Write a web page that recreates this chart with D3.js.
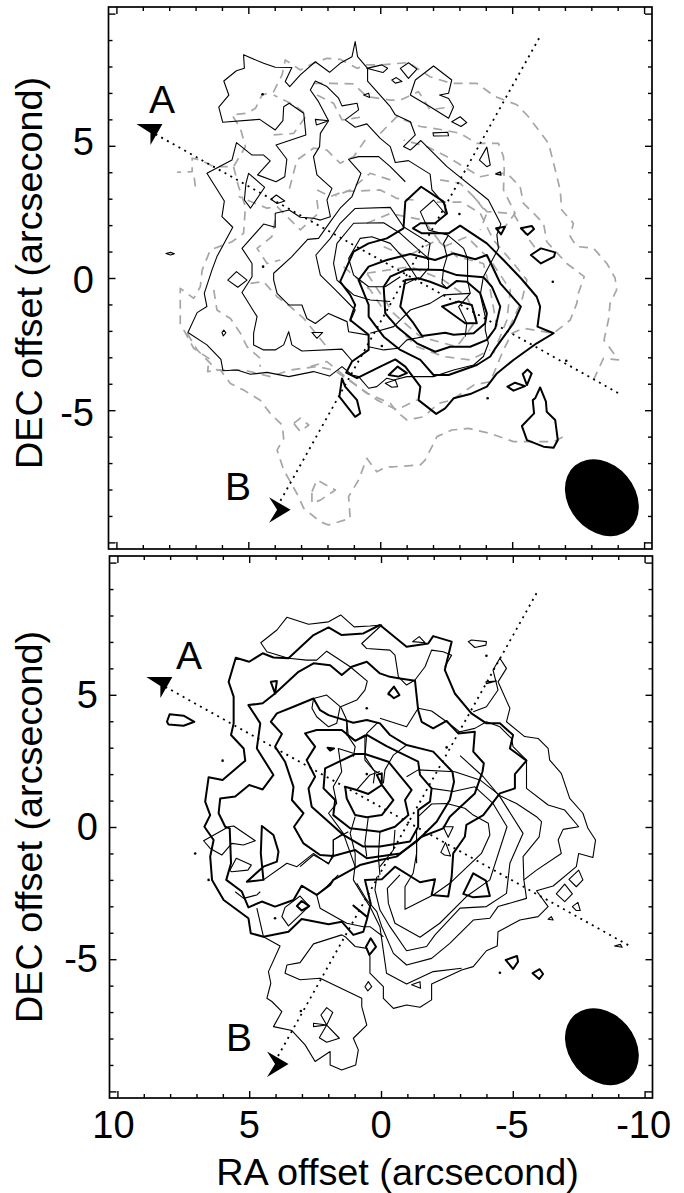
<!DOCTYPE html>
<html><head><meta charset="utf-8">
<script src="https://cdnjs.cloudflare.com/ajax/libs/d3/7.8.5/d3.min.js"></script>
<style>html,body{margin:0;padding:0;background:#fff}svg{display:block}text{font-family:"Liberation Sans",Arial,sans-serif;fill:#000}</style>
</head><body><svg id="c" width="684" height="1193"></svg>
<script>
// ---- shared axis values (arcsecond) ----
const majorTicks=[10,5,0,-5,-10];
const minorTicks=[9,8,7,6,4,3,2,1,-1,-2,-3,-4,-6,-7,-8,-9];
const yLabels=["5","0","-5"];
const xLabels=["10","5","0","-5","-10"];
const xTitle="RA offset (arcsecond)";
const yTitle="DEC offset (arcsecond)";
const beamAxes=[1.59,1.25];

// ---- TOP PANEL contours, [RA, DEC] ----
const topThinRings=[
[[5.18,8.44],[4.42,8.12],[3.98,7.97],[3.35,7.96],[3.60,7.43],[3.43,7.24],[3.03,7.68],[2.46,8.18],[1.92,7.78],[1.52,8.12],[1.07,8.37],[0.95,8.94],[0.86,8.37],[0.48,7.93],[0.48,7.45],[-0.38,6.48],[-0.57,6.17],[-1.14,5.91],[-1.33,5.41],[-0.88,4.97],[-1.14,4.84],[-1.54,5.20],[-2.53,4.21],[-4.10,2.95],[-4.57,2.04],[-4.42,1.63],[-4.48,1.12],[-3.91,0.05],[-3.79,-0.64],[-3.98,-1.46],[-3.98,-1.97],[-4.10,-2.47],[-3.91,-2.97],[-3.54,-3.29],[-2.78,-3.48],[-2.02,-3.73],[-1.01,-3.73],[-0.51,-3.86],[-0.25,-3.79],[0.13,-4.11],[0.44,-4.17],[0.82,-3.73],[1.07,-3.67],[1.45,-3.35],[1.92,-3.71],[2.53,-3.54],[3.47,-3.73],[4.29,-3.57],[4.92,-3.64],[5.43,-3.48],[5.96,-3.51],[6.04,-3.08],[6.57,-2.53],[7.29,-2.06],[6.94,-1.31],[6.57,-1.08],[6.67,-0.58],[6.38,0.30],[6.19,0.81],[5.59,1.92],[6.0,2.32],[5.91,2.91],[6.57,3.96],[5.62,4.46],[5.45,5.12],[4.86,4.65],[4.42,4.65],[4.17,4.43],[4.65,3.90],[3.95,3.64],[3.62,3.83],[3.54,4.49],[3.95,5.03],[2.82,5.41],[2.90,6.23],[3.45,6.61],[3.66,6.48],[3.69,5.95],[3.98,5.60],[4.57,6.00],[5.97,5.89],[6.12,6.46],[5.74,6.92],[5.93,7.45],[5.45,7.84],[5.15,7.93]],
[[0.51,7.93],[-0.06,8.06],[-0.28,7.93],[-0.10,7.77]],
[[0.63,6.92],[0.44,6.99],[0.40,6.83]],
[[2.46,6.00],[1.96,5.95],[2.42,5.79]],
[[4.99,3.96],[4.38,3.43],[4.92,2.64],[5.15,2.95],[5.09,3.58]],
[[4.14,2.98],[3.94,3.14],[3.62,2.91],[3.91,2.82]],
[[8.12,0.93],[7.95,0.97],[7.80,0.92],[7.95,0.87]],
[[5.78,-0.08],[5.45,0.24],[5.05,-0.08],[5.40,-0.35]],
[[6.0,-2.06],[5.93,-1.97],[5.85,-2.07],[5.95,-2.19]],
[[2.59,-2.06],[2.18,-2.06],[2.40,-2.28]],
[[-0.76,7.93],[-1.07,8.14],[-1.39,7.90],[-1.07,7.55]],
[[-0.44,7.49],[-0.61,7.58],[-0.82,7.43],[-0.57,7.37]],
[[-1.14,6.92],[-1.33,7.49],[-2.02,8.02],[-2.71,7.49],[-2.59,6.99],[-2.25,6.92],[-2.59,6.79],[-2.78,6.48],[-2.59,6.04],[-1.89,6.48]],
[[-2.71,5.91],[-3.03,6.10],[-3.28,5.88],[-3.06,5.73]],
[[-2.0,5.49],[-2.56,5.51],[-2.59,5.38],[-2.02,5.37]],
[[-3.76,4.46],[-4.04,4.95],[-4.17,4.27],[-4.04,4.21]],
[[-4.38,3.93],[-4.55,4.02],[-4.58,3.89]],
[[-0.19,-3.98],[-0.57,-3.86],[-0.66,-4.11],[-0.44,-4.13]]
];
const topThinOpen=[
[[-3.22,-2.22],[-3.28,-1.71],[-2.97,-1.08],[-3.41,-0.58],[-3.31,-0.08],[-3.31,0.74],[-3.16,1.12],[-2.55,1.63],[-1.83,1.81],[-1.52,2.51],[-2.02,2.95],[-2.46,2.44],[-2.46,2.76],[-1.96,3.33],[-1.89,3.93],[-1.07,4.44],[-0.57,4.37],[-0.38,4.97],[0.0,5.28],[0.51,5.83],[0.95,5.70],[1.33,5.98],[0.82,6.36],[0.88,6.61],[1.45,6.51],[1.58,6.80],[2.02,7.24],[2.46,7.45],[2.65,7.11],[2.34,6.67],[1.96,5.95],[2.27,5.47],[2.30,4.97],[2.53,4.59],[2.40,3.90],[1.83,3.39],[2.02,2.95],[1.89,2.32],[2.27,2.19],[2.53,2.26],[3.03,2.30],[3.45,2.57],[3.98,2.45],[3.98,1.92],[4.42,2.04],[5.24,1.12],[4.86,0.55],[4.86,0.05],[5.24,-0.55],[4.67,-1.46],[4.80,-2.09],[4.80,-2.53],[4.42,-2.72],[3.98,-2.72],[3.66,-2.53],[3.47,-2.03],[3.35,-2.53],[2.97,-2.76],[1.45,-2.69],[1.07,-3.13]],
[[-0.95,3.64],[-0.38,4.21],[0.06,4.59],[0.82,4.59],[1.20,4.49],[0.73,3.96],[1.07,3.08],[1.52,2.64],[1.89,2.13],[2.34,1.50],[2.75,1.46],[3.35,0.81],[4.04,0.18],[4.04,-0.08],[3.91,-0.58],[3.47,-1.02],[2.97,-1.02],[2.78,-1.53],[2.46,-1.72],[1.96,-1.34],[1.26,-1.65],[1.20,-2.03],[0.44,-2.16]],
[[1.14,-1.65],[0.95,-1.21],[1.70,-0.45],[2.27,0.11],[2.44,0.87],[1.89,1.50],[1.52,2.07],[0.95,2.63],[-0.38,2.67],[-0.88,1.94],[-1.89,1.31],[-1.79,0.68]],
[[-1.45,-0.08],[-1.83,0.37],[-1.83,0.74],[-1.39,1.12],[-0.76,1.69],[-0.13,2.09],[1.01,2.07],[1.64,1.31],[1.77,0.55],[1.64,-0.08],[1.01,-0.64],[0.38,-0.83],[-0.38,-0.89]],
[[-0.88,-0.26],[-1.39,-0.01],[-0.95,0.68],[-0.38,1.31],[0.32,1.56],[0.76,1.50],[1.20,0.74],[1.01,0.11],[0.44,-0.33],[-0.19,-0.33],[-0.76,0.05]],
[[-2.59,1.63],[-2.40,1.31],[-2.53,0.81],[-2.40,0.37],[-2.34,-0.20],[-2.53,-0.39]],
[[0.38,-2.09],[-0.51,-1.84],[-1.14,-1.21],[-1.89,-0.96],[-2.40,-0.64],[-3.41,-0.58]],
[[0.44,-2.60],[-0.13,-2.72],[-0.69,-2.66],[-1.01,-2.34],[-1.64,-2.22]]
];
const topThickRings=[
[[1.52,-0.14],[1.01,1.00],[0.44,1.31],[-0.25,1.50],[-0.88,1.88],[-0.95,2.89],[-1.55,3.45],[-2.40,2.89],[-2.53,2.44],[-2.08,2.07],[-1.52,2.07],[-1.24,1.88],[-1.58,1.69],[-2.59,1.69],[-3.03,1.98],[-4.04,1.31],[-4.67,0.68],[-5.33,-0.01],[-5.93,-0.71],[-6.06,-1.08],[-5.96,-1.84],[-6.57,-2.09],[-5.93,-2.47],[-5.05,-3.10],[-4.42,-3.61],[-4.04,-4.11],[-3.41,-4.39],[-2.78,-4.55],[-2.46,-4.93],[-2.12,-5.14],[-1.45,-4.62],[-1.52,-4.11],[-0.95,-3.35],[-0.57,-3.08],[0,-3.35],[0.88,-3.79],[1.29,-3.58],[1.07,-3.16],[0.44,-2.72],[0.44,-2.15],[1.14,-1.59],[0.95,-1.02],[1.14,-0.64]],
[[0.82,-0.08],[0.44,0.43],[-0.25,0.68],[-1.14,0.91],[-2.08,0.68],[-2.78,0.93],[-3.60,0.71],[-4.04,0.87],[-4.55,-0.20],[-5.33,-1.08],[-5.05,-1.71],[-4.36,-2.66],[-4.17,-2.97],[-3.66,-3.29],[-2.59,-3.67],[-2.02,-3.67],[-1.52,-3.10],[-0.76,-2.72],[-0.13,-2.22],[0.44,-1.46],[0.44,-1.02]],
[[-0.13,-0.33],[-0.38,0.05],[-1.01,0.33],[-2.34,0.30],[-2.90,0.11],[-3.91,0.03],[-4.23,-0.33],[-4.55,-1.08],[-4.36,-1.90],[-4.04,-2.34],[-3.41,-2.60],[-2.65,-2.60],[-2.08,-2.79],[-1.39,-2.47],[-0.63,-1.84],[-0.19,-1.34]],
[[-0.76,-1.08],[-0.95,-0.08],[-1.45,-0.01],[-1.89,-0.14],[-2.53,-0.39],[-2.90,-0.11],[-3.28,-0.14],[-3.79,-0.58],[-4.04,-1.34],[-3.98,-1.71],[-3.54,-2.09],[-2.78,-2.15],[-2.46,-2.07],[-1.58,-2.19],[-1.26,-1.71]],
[[-2.34,-1.08],[-2.97,-0.89],[-3.47,-1.02],[-3.66,-1.71],[-3.22,-1.71]],
[[-0.32,-3.67],[-0.66,-3.35],[-1.01,-3.60],[-0.69,-3.73]],
[[1.45,-3.80],[1.55,-4.49],[0.95,-5.25],[0.76,-5.12],[0.88,-4.62],[1.33,-4.11]],
[[-4.39,1.88],[-4.73,1.94],[-4.58,1.65]],
[[-5.33,1.88],[-5.74,1.97],[-5.83,1.85],[-5.58,1.63]],
[[-5.71,0.87],[-6.09,1.12],[-6.63,0.97],[-6.59,0.81],[-6.09,0.55]],
[[-4.82,-4.11],[-5.11,-3.96],[-5.49,-4.09],[-5.05,-4.26]],
[[-5.40,-3.63],[-5.58,-3.46],[-5.74,-3.61],[-5.56,-4.05]],
[[-6.06,-4.14],[-5.87,-4.55],[-5.78,-4.62],[-5.83,-5.12],[-5.37,-5.60],[-5.56,-6.13],[-6.19,-6.38],[-6.57,-6.42],[-6.73,-6.13],[-6.63,-5.37],[-6.31,-5.06],[-6.28,-4.68]]
];
const topGrey=[
[[-8.08,-3.86],[-8.46,-3.04],[-9.03,-3.10],[-8.71,-2.66],[-8.48,-2.35],[-8.65,-1.59],[-8.71,-0.96],[-8.96,-0.45],[-8.90,0],[-8.59,0.55],[-8.08,1.13],[-7.45,1.19],[-7.20,1.57],[-7.32,2.07],[-6.88,2.57],[-6.82,3.33],[-6.57,4.34],[-6.38,5.09],[-5.62,6.10],[-5.18,6.55],[-4.36,6.86],[-3.66,7.36],[-2.71,7.36],[-1.89,7.61],[-1.07,8.15],[0,8.06],[0.51,8.06],[0.88,7.93],[1.52,8.27],[2.02,8.31],[2.53,8.12],[3.03,7.87],[3.60,8.25],[3.72,7.68],[4.04,7.05],[4.48,6.92],[4.73,6.42],[5.05,6.23],[5.62,6.17],[5.30,5.66],[5.11,4.97],[5.56,4.21],[6.31,4.21],[6.82,4.46],[7.13,4.53],[7.13,4.02],[7.70,4.00]],
[[7.01,3.46],[7.07,3.96]],
[[5.56,4.21],[5.37,3.46],[5.11,2.70],[5.18,1.69],[5.62,1.37],[6.44,1.06],[6.75,0.30],[6.82,-0.33],[7.07,-0.77],[7.58,-0.39],[7.58,-1.72],[7.07,-2.66],[6.50,-3.04],[6.54,-3.54],[6.06,-3.48],[5.68,-3.99],[5.18,-4.24],[4.55,-4.62],[4.17,-5.12],[3.72,-5.56],[3.66,-6.07],[3.91,-6.51],[3.66,-7.26],[3.16,-8.15],[2.90,-8.71],[2.27,-9.22],[1.96,-9.34],[1.14,-9.09],[1.20,-8.27],[0.82,-7.64],[0.51,-6.82],[0.13,-7.33],[-0.25,-7.14],[-0.51,-7.14],[-1.52,-7.07],[-1.70,-6.89],[-1.96,-6.38],[-2.15,-6.0],[-2.71,-5.75],[-3.35,-5.69],[-4.17,-5.88],[-5.05,-6.19],[-5.56,-6.19],[-6.57,-6.19],[-7.07,-5.94]],
[[3.28,-5.50],[3.03,-5.30],[2.71,-5.56],[3.03,-5.81],[3.28,-5.50]],
[[2.59,-8.08],[2.40,-7.64],[1.70,-8.02],[2.27,-8.40],[2.59,-8.52],[2.59,-8.08]],
[[7.32,-2.09],[6.94,-2.72],[6.19,-3.48],[5.18,-3.48],[4.17,-3.73],[3.41,-3.48],[2.40,-3.35],[1.77,-3.48],[1.01,-3.99],[0.51,-4.36],[-0.38,-4.74],[-0.63,-5.06],[-1.01,-5.37],[-1.64,-5.25],[-2.21,-4.74],[-2.71,-4.62],[-3.54,-4.05],[-4.17,-3.92],[-4.67,-2.72],[-4.99,-2.09],[-5.43,-1.90],[-6.57,-2.09],[-7.20,-1.59],[-7.45,-0.96],[-7.51,-0.58],[-7.73,0.05],[-7.07,0.55],[-6.31,1.37],[-6.19,2.07],[-5.43,2.82],[-5.30,3.46],[-4.80,3.96],[-4.42,3.96],[-3.79,3.83],[-2.53,4.59],[-1.77,4.97],[-0.88,5.22]],
[[0,5.47],[-0.63,6.10],[-1.52,5.73],[-2.40,5.60],[-3.03,5.47],[-3.66,5.09],[-4.48,5.09],[-4.67,4.59],[-4.70,4.09],[-4.67,3.33],[-5.11,2.45],[-4.73,1.94]],
[[-2.27,3.71],[-3.03,3.58],[-3.54,3.08],[-4.04,2.45],[-3.79,1.82]],
[[-2.15,2.87],[-3.09,2.87],[-3.79,2.45],[-4.29,1.44],[-5.05,0.55],[-5.56,-0.08],[-5.37,-0.83],[-4.80,-2.09]],
[[4.04,5.41],[3.28,5.47],[2.78,6.17],[3.28,6.55],[4.04,6.92]],
[[2.53,7.36],[1.77,7.36],[1.01,7.34],[0.51,6.86],[-0.38,6.73],[-0.76,6.73],[-1.45,7.05],[-1.89,6.36],[-2.71,6.48]],
[[2.40,6.92],[1.77,6.61],[1.45,5.98],[0.63,6.10]],
[[0.57,5.22],[1.01,4.59],[1.52,4.34],[2.02,4.84],[2.53,4.91],[3.16,4.46],[3.47,3.27]],
[[-0.38,3.71],[0.38,3.96],[1.14,3.33],[1.70,3.10]],
[[2.40,2.95],[2.34,2.45],[3.03,1.82],[3.91,2.70],[4.29,2.64],[4.73,2.82],[5.37,3.08]],
[[3.98,2.19],[4.11,1.56],[4.67,1.12],[4.29,0.55],[3.79,0.68]],
[[6.31,-0.45],[6.19,-1.21],[5.68,-1.53],[5.30,-2.09],[5.05,-2.60],[4.55,-3.04],[4.55,-3.36]],
[[4.92,-0.20],[4.42,-0.14],[3.91,-0.71],[3.41,-1.08],[2.90,-1.53],[2.03,-2.60]],
[[2.39,3.33],[1.89,3.08],[1.39,3.27],[0,3.33],[-0.63,3.01],[-1.26,2.95]],
[[-3.54,3.07],[-4.04,2.51],[-5.05,2.44],[-5.56,1.56],[-5.93,1.06]],
[[2.65,-3.35],[2.02,-3.16],[1.33,-3.73],[1.01,-3.98],[0.13,-4.61],[-0.63,-4.99],[-1.39,-4.61]],
[[1.39,0.43],[0.38,-0.45],[-0.38,-1.59],[-1.39,-2.60],[-2.40,-2.97],[-3.41,-3.10],[-4.17,-2.72]],
[[0.51,2.07],[-0.38,2.44],[-1.64,2.19],[-2.40,1.18],[-3.28,1.56],[-4.17,0.68],[-4.93,-0.45],[-4.80,-1.59],[-4.29,-2.85]],
[[-0.13,1.18],[-1.01,0.81],[-2.15,1.44],[-2.90,0.81],[-3.91,0.55],[-4.17,-0.45],[-4.42,-1.84]],
[[0.51,0.18],[-1.14,0.43],[-2.40,-0.08],[-3.28,-0.71],[-3.66,-1.59],[-2.90,-2.60],[-1.52,-2.22],[-0.51,-1.34],[0.51,0.18]]
];
const topDots=[[-6.54,-0.14],[-4.07,-4.55],[-7.05,-3.13],[4.46,6.95],[4.44,0.43],[-0.06,-2.57],[-3.0,2.42]];
const topCutA=[[8.52,5.44],[-9.09,-4.39]];
const topCutB=[[-6.02,9.07],[3.83,-8.51]];
const topDartA=[8.71,5.48];
const topDartB=[3.91,-8.77];
const topBeam=[-8.40,-8.31];

// ---- BOTTOM PANEL contours, [RA, DEC] ----
const botThickRings=[
[[5.51,6.40],[5.78,5.49],[5.59,4.93],[5.59,3.92],[5.69,3.48],[5.21,2.97],[5.15,2.51],[6.01,1.78],[6.54,1.88],[6.67,0.96],[6.48,0.45],[6.70,0.01],[6.35,-0.49],[6.48,-1.12],[6.41,-2.00],[5.97,-2.76],[5.03,-3.45],[4.94,-4.02],[4.46,-4.15],[3.51,-3.96],[3.01,-3.48],[1.99,-3.68],[1.49,-3.58],[1.05,-4.08],[0.67,-3.96],[0.54,-3.52],[0.39,-2.89],[0.61,-2.00],[-0.03,-1.98],[-0.53,-1.50],[-1.48,-2.09],[-2.05,-1.98],[-1.92,-2.57],[-2.55,-2.63],[-2.68,-1.88],[-2.74,-1.00],[-3.18,-0.37],[-3.24,0.08],[-3.88,0.45],[-4.51,1.27],[-5.08,1.46],[-5.08,2.00],[-5.52,2.51],[-4.89,2.97],[-5.01,3.48],[-4.51,3.92],[-4.0,3.92],[-3.43,4.30],[-2.80,5.05],[-2.42,5.94],[-2.68,7.01],[-1.98,7.22],[-1.79,6.94],[-0.97,6.82],[0.04,7.64],[0.67,7.32],[1.49,7.26],[1.99,7.55],[2.56,7.26],[3.51,6.38],[4.08,6.41],[4.49,6.57],[5.0,6.25]],
[[5.03,4.61],[4.49,4.68],[4.02,5.05],[3.13,5.87],[2.56,6.19],[1.93,6.12],[1.49,5.75],[1.11,6.06],[0.54,6.25],[0.04,5.81],[-0.34,5.68],[-0.72,5.62],[-1.29,5.53],[-1.41,4.42],[-1.54,3.98],[-1.98,3.73],[-2.49,4.01],[-2.93,3.54],[-3.56,3.60],[-3.50,2.85],[-3.90,2.41],[-3.85,2.09],[-3.56,1.27],[-2.61,0.39],[-2.36,-0.05],[-1.54,-0.37],[-0.59,-1.12],[0.04,-1.25],[0.80,-1.44],[1.81,-2.0],[1.93,-2.19],[2.44,-2.57],[3.01,-2.22],[3.32,-2.76],[4.02,-3.01],[4.52,-2.82],[5.03,-3.04],[5.28,-2.44],[5.87,-2.0],[5.69,-1.37],[5.74,-0.05],[5.91,0.01],[6.16,0.52],[6.10,1.08],[5.53,1.15],[5.0,1.59],[4.49,1.42],[4.08,1.97],[4.71,2.97],[4.58,3.92]],
[[5.09,-2.07],[4.46,-1.50],[3.95,-1.31],[3.89,-0.93],[4.08,-0.30],[4.52,0.04],[4.56,-1.0],[4.46,-2.0]],
[[4.18,3.98],[3.95,4.30],[3.32,4.55],[2.56,4.86],[2.31,4.42],[1.99,4.23],[1.05,3.94],[0.54,4.05],[0.04,3.92],[-0.34,3.48],[-0.97,3.10],[-1.98,2.85],[-2.71,2.09],[-2.77,1.71],[-2.61,1.02],[-2.11,0.20],[-1.35,-0.55],[-0.72,-1.00],[0.54,-1.18],[0.98,-0.87],[1.81,-1.10],[2.31,-1.06],[2.94,-0.62],[3.30,0.01],[2.94,0.52],[3.38,1.02],[3.32,1.52],[3.64,2.47],[4.02,3.04],[3.76,3.52]],
[[2.88,3.54],[2.44,3.67],[1.49,3.67],[0.98,3.26],[0.54,3.48],[-0.21,3.06],[-1.41,2.47],[-1.48,1.97],[-1.92,1.46],[-1.86,0.96],[-1.41,0.64],[-1.41,0.01],[-1.10,-0.55],[0.04,-0.74],[0.67,-0.74],[1.43,-0.30],[1.99,0.20],[2.63,0.77],[2.75,1.46],[2.50,1.90],[2.82,2.53],[2.50,3.04]],
[[2.12,2.22],[0.98,2.76],[0.61,2.76],[-0.28,2.47],[-1.16,1.40],[-0.91,1.02],[-1.04,0.45],[-0.53,0.01],[0.04,-0.18],[1.17,-0.05],[1.81,0.45],[1.74,1.02],[2.18,1.46]],
[[1.36,1.52],[0.92,1.40],[0.48,1.25],[-0.03,1.59],[-0.03,2.03],[0.16,1.97],[-0.03,1.59],[-0.47,1.02],[-0.03,0.45],[0.54,0.37],[0.98,0.45],[1.30,1.08]],
[[-0.28,5.05],[-0.49,5.31],[-0.70,4.99],[-0.49,4.87]],
[[8.12,3.98],[8.02,4.26],[7.49,4.21],[7.08,3.98],[7.49,3.83],[8.06,3.88]],
[[4.18,5.49],[3.95,5.52],[4.02,5.05]],
[[2.03,3.0],[1.78,2.97],[1.93,2.89]],
[[3.19,-2.99],[3.01,-2.80],[2.72,-2.99],[3.01,-3.16]],
[[0.57,-4.53],[0.39,-4.21],[0.19,-4.53],[0.44,-4.84]],
[[1.05,-2.97],[0.54,-3.39],[0.92,-3.08]],
[[-3.12,-2.53],[-3.50,-1.75],[-3.98,-2.03],[-4.13,-2.61],[-3.50,-2.66]],
[[-4.73,-5.03],[-5.16,-4.88],[-5.20,-5.09],[-5.01,-5.37]],
[[-5.75,-5.53],[-6.02,-5.38],[-6.15,-5.56],[-6.0,-5.75]]
];
const botThinOpen=[
[[3.51,6.38],[4.33,6.63],[4.56,6.97],[3.95,7.45],[3.57,7.93],[2.75,7.67],[1.99,7.76],[1.53,8.02],[1.02,7.57],[0.42,7.60],[-0.03,7.64],[0.73,6.94],[0.54,6.75],[-0.34,6.69],[-0.53,6.50],[-0.66,5.68],[-0.97,5.37],[-1.29,5.56],[-1.67,6.06],[-1.92,6.69],[-2.36,6.63],[-2.68,6.50],[-2.42,6.06]],
[[-3.50,4.36],[-4.0,4.55],[-4.44,5.18],[-4.25,5.94],[-4.51,6.38],[-4.76,6.0],[-4.44,5.49],[-4.89,4.49],[-4.76,3.98],[-5.45,3.42],[-5.96,3.35],[-6.34,2.97],[-6.40,2.53],[-6.84,2.03],[-7.16,1.08],[-7.66,0.52],[-7.85,-0.05],[-8.14,-0.49],[-8.04,-1.15],[-7.50,-1.0],[-7.41,-1.50],[-6.53,-2.23],[-5.90,-2.41],[-6.34,-3.01],[-5.96,-3.39],[-5.27,-3.52],[-4.44,-3.96],[-4.41,-4.50],[-4.0,-4.68],[-3.50,-5.28],[-3.06,-5.41],[-1.92,-5.94],[-1.92,-6.54],[-1.48,-6.82],[-0.97,-6.73],[-0.47,-6.86],[-0.09,-6.48],[-0.09,-6.04],[0.42,-5.53],[0.42,-4.90],[0.54,-4.59],[0.98,-4.52],[1.36,-4.15],[1.49,-4.08],[2.56,-4.42],[3.07,-5.13],[3.57,-5.22],[3.64,-5.53],[3.07,-5.78],[2.31,-5.72],[0.73,-6.48],[0.73,-6.79],[0.54,-7.49],[1.05,-7.99],[0.86,-8.43],[0.96,-9.0],[1.49,-9.19],[1.93,-9.0],[1.93,-8.49],[2.50,-8.87],[2.88,-8.24],[3.38,-7.70],[4.08,-7.55],[3.76,-6.98],[4.14,-6.60],[4.33,-6.48],[4.18,-5.91],[4.27,-5.47],[3.83,-4.50],[4.46,-4.15],[4.71,-3.07]],
[[3.51,6.38],[2.82,6.31],[2.44,6.31],[2.06,6.65],[1.17,6.06],[0.52,5.52],[0.61,5.18],[0.92,4.80],[1.53,4.55],[1.30,4.05],[1.24,3.42],[0.98,3.04],[1.05,2.66]],
[[2.56,4.86],[2.62,4.49],[2.44,4.17],[1.99,3.79],[1.68,3.92],[1.55,4.55],[2.06,4.99],[2.56,4.86]],
[[0.10,3.98],[0.54,3.54],[0.61,2.66],[0.23,2.09],[0.29,1.65]],
[[1.05,-2.0],[0.67,-2.63],[0.42,-3.01],[0.04,-3.77],[-0.05,-4.41],[-0.21,-5.53],[-0.97,-5.94],[-1.98,-5.47],[-3.06,-5.34]],
[[0.92,-2.13],[0.54,-2.76],[0.16,-3.20],[-0.03,-3.77],[-0.47,-4.78],[-0.97,-5.22],[-1.92,-4.97],[-2.61,-4.40],[-3.50,-3.52],[-4.13,-3.45],[-4.44,-3.01],[-5.52,-2.70],[-5.42,-2.0],[-5.90,-1.63],[-6.84,-1.0],[-6.72,-0.49],[-6.91,-0.09],[-7.50,0.01],[-6.97,0.64],[-6.34,0.83],[-5.52,1.46],[-5.52,2.53],[-5.01,3.04],[-4.95,3.35],[-4.51,3.79],[-4.0,3.98],[-3.56,3.73],[-2.99,3.60],[-2.49,3.98],[-1.92,4.39],[-1.41,4.49],[-0.97,3.79],[0.04,4.11]],
[[0.16,-1.88],[0.23,-2.38],[0.04,-3.14],[-0.34,-3.77],[-0.97,-4.68],[-1.73,-4.52],[-2.05,-4.08],[-3.0,-3.07],[-4.0,-3.01],[-4.76,-2.51],[-4.89,-1.37],[-5.39,-0.24],[-4.51,1.15],[-3.88,1.90],[-3.0,2.7]],
[[-0.72,-1.81],[-0.24,-2.32],[-0.28,-2.89],[-0.53,-3.64],[-1.48,-4.17],[-2.23,-3.64],[-3.24,-2.63],[-4.13,-2.0],[-4.78,0.01],[-4.25,0.89],[-3.56,1.52],[-2.74,1.34],[-1.92,1.46]],
[[-5.42,-2.0],[-5.39,-1.12],[-6.0,-0.37],[-6.09,0.20],[-5.90,0.39],[-5.14,0.89],[-4.57,1.15],[-3.75,1.78],[-2.80,2.09],[-1.41,2.16],[-0.97,1.90]],
[[-1.35,-0.49],[-1.35,-1.0],[-1.22,-1.75],[-0.91,-2.26],[-0.91,-3.11],[-1.98,-2.57],[-2.61,-2.13],[-3.81,-1.0],[-4.13,-0.30],[-4.07,0.14],[-3.50,0.45],[-3.18,0.71],[-2.49,0.89],[-1.92,0.87],[-1.41,0.39]],
[[1.30,4.05],[1.30,3.48],[0.98,3.26],[0.61,3.48],[0.61,2.53],[0.29,2.16],[-0.03,1.97]],
[[1.05,2.79],[1.62,2.97],[1.49,2.09],[1.81,1.52],[1.68,0.89],[1.99,0.52],[1.43,-0.24],[0.98,-1.50]],
[[0.92,1.40],[0.42,1.97],[0.04,2.1]],
[[0.98,0.39],[1.17,-0.24],[0.98,-1.0],[0.98,-1.44],[1.05,-2.0]],
[[0.48,0.39],[0.61,-0.62],[0.54,-1.12]],
[[0.04,-0.18],[0.10,-1.12],[0.04,-1.81]],
[[-0.53,-0.11],[-0.47,-0.87],[0.04,-1.50]],
[[-0.97,3.10],[-0.47,2.72],[-0.15,2.16],[-0.09,1.65]],
[[3.07,-1.50],[2.56,-1.06],[1.99,-1.37],[1.81,-1.12],[1.81,-0.49],[1.43,-0.24]],
[[-1.35,-0.05],[-1.35,-1.37]],
[[5.53,-2.45],[5.21,-2.70],[4.71,-2.57],[4.58,-2.45]],
[[4.46,-2.0],[3.57,-1.37],[3.19,-1.50],[2.56,-1.0],[1.99,-1.40],[1.81,-1.0],[1.81,-0.49],[1.24,-0.18]],
[[2.44,-2.57],[2.06,-2.26],[1.62,-1.81]],
[[2.44,-2.57],[2.31,-3.07],[1.30,-3.64],[0.67,-3.77],[0.42,-3.77],[-0.09,-4.15]]
];
const botThinRings=[
[[6.73,-0.52],[5.78,0.01],[5.59,0.04],[4.77,-0.52],[5.22,-0.68],[5.66,-0.62],[6.04,-1.06],[6.48,-0.81]],
[[5.74,-1.65],[5.49,-1.18],[4.92,-1.44],[5.05,-1.63],[5.66,-1.69]],
[[3.76,-3.39],[3.64,-3.04],[3.07,-2.61],[2.72,-2.99],[3.51,-3.74]],
[[-3.98,5.49],[-4.38,5.52],[-4.0,5.42]],
[[-3.31,7.01],[-3.43,7.07],[-4.0,7.01],[-3.98,6.88],[-3.56,6.79]],
[[-1.20,7.01],[-1.45,7.20],[-1.67,6.97]],
[[-2.36,0.01],[-2.74,0.01],[-2.55,-0.39]],
[[-2.27,-0.96],[-2.45,-0.59],[-2.64,-1.10],[-2.41,-1.06]],
[[-1.16,-5.97],[-1.48,-5.85],[-1.50,-6.10]],
[[-6.34,-3.49],[-6.46,-3.39],[-6.53,-3.52]],
[[-6.65,-2.53],[-6.97,-2.16],[-7.26,-2.53],[-6.97,-2.82]],
[[-7.13,-1.98],[-7.50,-1.63],[-7.66,-2.0],[-7.41,-2.26]],
[[-7.26,-3.01],[-7.47,-2.85],[-7.56,-3.16],[-7.41,-3.16]],
[[-8.86,-4.50],[-9.08,-4.44],[-9.15,-4.55]],
[[0.61,-6.04],[0.48,-5.85],[0.35,-6.04],[0.50,-6.20]],
[[2.28,-7.11],[2.06,-6.83],[1.83,-7.01],[2.06,-7.49],[1.58,-7.99],[2.06,-8.14],[2.34,-7.97],[2.06,-7.49],[2.56,-7.55],[2.56,-7.42],[2.06,-7.49]]
];
const botDots=[[6.01,2.51],[0.54,4.49],[-0.30,5.02],[0.54,2.0],[-4.0,6.48],[-2.49,3.01],[7.05,-1.0],[4.02,-3.45],[3.04,-6.96],[-4.51,-5.51],[6.54,-2.0]];
const botCutA=[[8.18,5.30],[-9.49,-4.53]];
const botCutB=[[-5.9,8.84],[3.95,-8.74]];
const botDartA=[8.37,5.33];
const botDartB=[4.02,-8.96];
const botBeam=[-8.38,-8.31];

// ---- drawing ----
const svg=d3.select("#c");
const dartDown="M0,0 L-14,-9 L12,-9 L0,12 Z";
const dartRight="M0,0 L-8,-12.5 L13.5,0 L-8,13 Z";

function panel(o){
  const x=d3.scaleLinear().domain([10.3,-10.3]).range(o.xr);
  const y=d3.scaleLinear().domain([10.25,-10.25]).range(o.yr);
  const g=svg.append("g");
  const open=d3.line().x(d=>x(d[0])).y(d=>y(d[1]));
  const ring=d3.line().x(d=>x(d[0])).y(d=>y(d[1])).curve(d3.curveLinearClosed);
  const draw=(data,gen,w,stroke,dash)=>g.append("g").selectAll("path").data(data).join("path")
     .attr("d",gen).attr("fill","none").attr("stroke",stroke).attr("stroke-width",w)
     .attr("stroke-linejoin","round").attr("stroke-dasharray",dash||null);
  if(o.grey) draw(o.grey,open,1.7,"#a6a6a6","9,6.5");
  draw(o.thinRings,ring,1.1,"#000");
  draw(o.thinOpen,open,1.1,"#000");
  draw(o.thickRings,ring,2,"#000");
  g.append("g").selectAll("circle").data(o.dots).join("circle")
    .attr("cx",d=>x(d[0])).attr("cy",d=>y(d[1])).attr("r",1.3).attr("fill","#000");
  draw([o.cutA,o.cutB],open,1.8,"#000","2,4.6");
  g.append("path").attr("d",dartDown).attr("transform",`translate(${x(o.dartA[0])},${y(o.dartA[1])})`);
  g.append("path").attr("d",dartRight).attr("transform",`translate(${x(o.dartB[0])},${y(o.dartB[1])})`);
  const k=x(0)-x(1);
  g.append("ellipse").attr("cx",x(o.beam[0])).attr("cy",y(o.beam[1]))
    .attr("rx",beamAxes[0]*k).attr("ry",beamAxes[1]*k)
    .attr("transform",`rotate(50 ${x(o.beam[0])} ${y(o.beam[1])})`).attr("fill","#000");
  g.append("rect").attr("x",o.xr[0]).attr("y",o.yr[0]).attr("width",o.xr[1]-o.xr[0]).attr("height",o.yr[1]-o.yr[0])
    .attr("fill","none").attr("stroke","#000").attr("stroke-width",1.7);
  const ax=(maker,scale,tr,vals,len)=>{
    const a=g.append("g").attr("transform",tr).call(maker(scale).tickValues(vals).tickSize(len).tickFormat(""));
    a.select(".domain").remove();
    a.selectAll("line").attr("stroke","#000").attr("stroke-width",1.4);
  };
  [[majorTicks,7],[minorTicks,4]].forEach(([v,l])=>{
    ax(d3.axisBottom,x,`translate(0,${o.yr[0]})`,v,l);
    ax(d3.axisTop,x,`translate(0,${o.yr[1]})`,v,l);
    ax(d3.axisRight,y,`translate(${o.xr[0]},0)`,v,l);
    ax(d3.axisLeft,y,`translate(${o.xr[1]},0)`,v,l);
  });
  g.append("g").selectAll("text").data(yLabels).join("text")
    .attr("x",o.labelEnd).attr("y",(d,i)=>y(+d)+o.labelDy[i]).attr("text-anchor","end").attr("font-size",38).text(d=>d);
  g.append("text").attr("transform",`translate(41.5,${o.titleY}) rotate(-90)`).attr("text-anchor","middle")
    .attr("font-size",37.8).text(yTitle);
  g.append("text").attr("x",o.ax).attr("y",o.ay).attr("text-anchor","middle").attr("font-size",39).text("A");
  g.append("text").attr("x",o.bx).attr("y",o.by).attr("text-anchor","middle").attr("font-size",39).text("B");
  return {x,y,g};
}
panel({xr:[108.5,652],yr:[7,549],grey:topGrey,thinRings:topThinRings,thinOpen:topThinOpen,thickRings:topThickRings,dots:topDots,cutA:topCutA,cutB:topCutB,dartA:topDartA,dartB:topDartB,beam:topBeam,labelEnd:94,labelDy:[9,15,16],titleY:273,ax:162,ay:113,bx:238,by:500});
const p2=panel({xr:[109.5,652.5],yr:[556,1098],thinRings:botThinRings,thinOpen:botThinOpen,thickRings:botThickRings,dots:botDots,cutA:botCutA,cutB:botCutB,dartA:botDartA,dartB:botDartB,beam:botBeam,labelEnd:98,labelDy:[13,13,13],titleY:827,ax:189,ay:669,bx:239,by:1051});
const xLabelShift=[-4,0,0,-1,-1];
svg.append("g").selectAll("text").data(xLabels).join("text")
  .attr("x",(d,i)=>p2.x(+d)+xLabelShift[i]).attr("y",1138).attr("text-anchor","middle").attr("font-size",38).text(d=>d);
svg.append("text").attr("x",397.5).attr("y",1185).attr("text-anchor","middle").attr("font-size",37.8).text(xTitle);
</script></body></html>
